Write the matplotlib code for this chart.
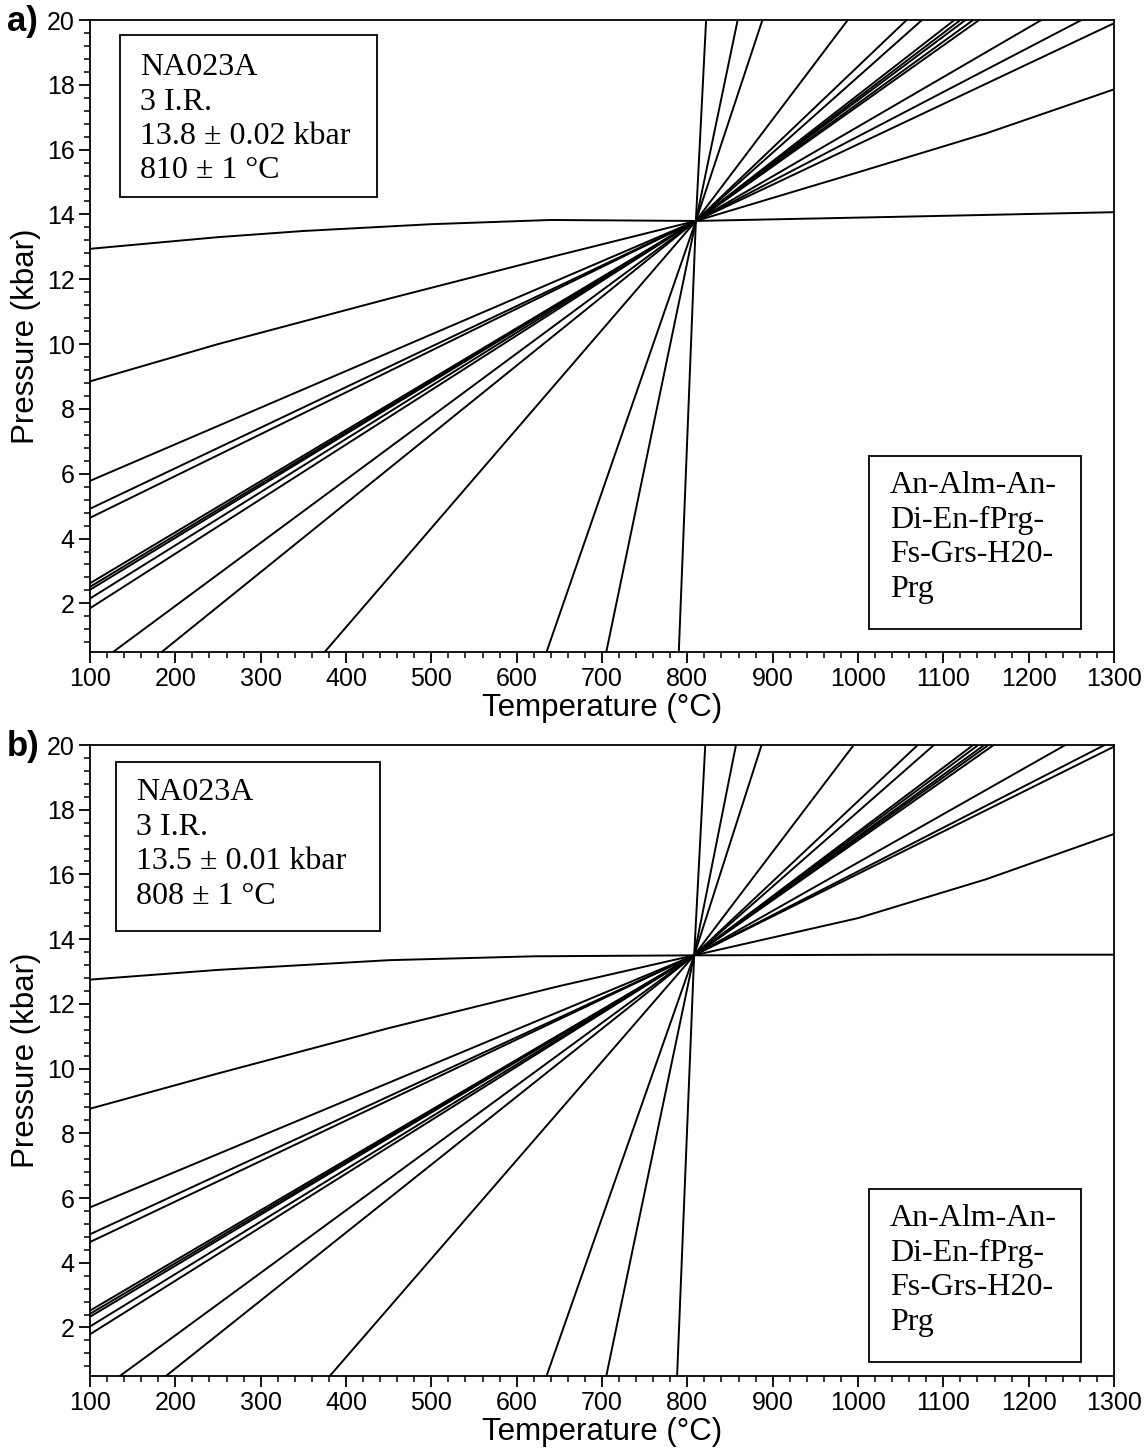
import matplotlib
matplotlib.use("Agg")
import matplotlib.pyplot as plt
from matplotlib.patches import Rectangle
from matplotlib.ticker import MultipleLocator

plt.rcParams["font.family"] = ["Liberation Sans", "DejaVu Sans"]

# ---- panel a: invariant point and reaction lines (T in °C, P in kbar) ----
a_T0, a_P0 = 810, 13.8
a_low_T = [100, 100, 100, 100, 100, 100, 100, 100, 127, 184, 375, 635, 705, 790]
a_low_P = [5.78, 4.92, 4.64, 2.62, 2.51, 2.42, 2.15, 1.85, 0.5, 0.5, 0.5, 0.5, 0.5, 0.5]
a_high_T = [1300, 1262, 1215, 1142, 1135, 1126, 1120, 1113, 1075, 1057, 988, 888, 859, 822]
a_high_P = [19.9, 20, 20, 20, 20, 20, 20, 20, 20, 20, 20, 20, 20, 20]
a_flat_T = [100, 250, 350, 500, 640, 810, 1050, 1300]
a_flat_P = [12.94, 13.3, 13.49, 13.7, 13.83, 13.8, 13.93, 14.07]
a_shallow_T = [100, 250, 450, 650, 810, 1000, 1150, 1300]
a_shallow_P = [8.85, 10.0, 11.4, 12.75, 13.8, 15.3, 16.5, 17.86]

# ---- panel b ----
b_T0, b_P0 = 808, 13.5
b_low_T = [100, 100, 100, 100, 100, 100, 100, 100, 135, 189, 381, 635, 705, 788]
b_low_P = [5.71, 4.88, 4.64, 2.52, 2.42, 2.33, 2.03, 1.79, 0.5, 0.5, 0.5, 0.5, 0.5, 0.5]
b_high_T = [1300, 1289, 1243, 1159, 1153, 1148, 1141, 1135, 1089, 1070, 995, 887, 857, 821]
b_high_P = [19.95, 20, 20, 20, 20, 20, 20, 20, 20, 20, 20, 20, 20, 20]
b_flat_T = [100, 250, 450, 620, 808, 1050, 1300]
b_flat_P = [12.75, 13.05, 13.35, 13.47, 13.5, 13.52, 13.52]
b_shallow_T = [100, 250, 450, 650, 808, 1000, 1150, 1300]
b_shallow_P = [8.76, 9.85, 11.25, 12.55, 13.5, 14.65, 15.85, 17.25]

a_info = "NA023A\n3 I.R.\n13.8 ± 0.02 kbar\n810 ± 1 °C"
b_info = "NA023A\n3 I.R.\n13.5 ± 0.01 kbar\n808 ± 1 °C"
reactions = "An-Alm-An-\nDi-En-fPrg-\nFs-Grs-H20-\nPrg"

W, H = 1147, 1453
fig = plt.figure(figsize=(W / 100, H / 100), dpi=100)


def px_box(x0, y0, x1, y1):
    # pixel corners (top-left origin) -> figure fraction [left, bottom, width, height]
    return [x0 / W, 1 - y1 / H, (x1 - x0) / W, (y1 - y0) / H]


def draw_panel(axbox, T0, P0, low_T, low_P, high_T, high_P,
               flat_T, flat_P, shallow_T, shallow_P):
    ax = fig.add_axes(px_box(*axbox))
    for tl, pl, th, ph in zip(low_T, low_P, high_T, high_P):
        ax.plot([tl, T0, th], [pl, P0, ph], color="black", lw=1.4)
    ax.plot(flat_T, flat_P, color="black", lw=1.4)
    ax.plot(shallow_T, shallow_P, color="black", lw=1.4)
    ax.set_xlim(100, 1300)
    ax.set_ylim(0.5, 20)
    ax.xaxis.set_major_locator(MultipleLocator(100))
    ax.xaxis.set_minor_locator(MultipleLocator(20))
    ax.yaxis.set_major_locator(MultipleLocator(2))
    ax.yaxis.set_minor_locator(MultipleLocator(0.4))
    ax.tick_params(which="major", direction="out", length=8, width=1.3,
                   labelsize=18, pad=3)
    ax.tick_params(which="minor", direction="out", length=4, width=1.1)
    ax.tick_params(top=False, right=False)
    for s in ax.spines.values():
        s.set_linewidth(1.3)
    ax.set_xlabel("Temperature (°C)", fontsize=22.5, labelpad=1)
    ax.set_ylabel("Pressure (kbar)", fontsize=22.5, labelpad=4)
    return ax


def draw_box(rect, text, tx, ty, spacing):
    x0, y0, x1, y1 = rect
    fig.add_artist(Rectangle((x0 / W, 1 - y1 / H), (x1 - x0) / W, (y1 - y0) / H,
                             transform=fig.transFigure, fill=False, lw=1.3,
                             edgecolor="black"))
    fig.text(tx / W, 1 - ty / H, text, family="Liberation Serif", fontsize=23,
             va="top", ha="left", linespacing=spacing)


draw_panel((90, 20, 1114, 652), a_T0, a_P0, a_low_T, a_low_P, a_high_T, a_high_P,
           a_flat_T, a_flat_P, a_shallow_T, a_shallow_P)
draw_panel((90, 745, 1114, 1376), b_T0, b_P0, b_low_T, b_low_P, b_high_T, b_high_P,
           b_flat_T, b_flat_P, b_shallow_T, b_shallow_P)

fig.text(7 / W, 1 - 22 / H, "a)", fontsize=25, weight="bold", va="center")
fig.text(7 / W, 1 - 747 / H, "b)", fontsize=25, weight="bold", va="center")

draw_box((120, 35, 377, 197), a_info, 140, 53, 1.25)
draw_box((869, 456, 1081, 629), reactions, 890, 471, 1.26)
draw_box((116, 762, 380, 931), b_info, 136, 778, 1.26)
draw_box((869, 1189, 1081, 1362), reactions, 890, 1204, 1.26)

fig.savefig("out.png", dpi=100)
